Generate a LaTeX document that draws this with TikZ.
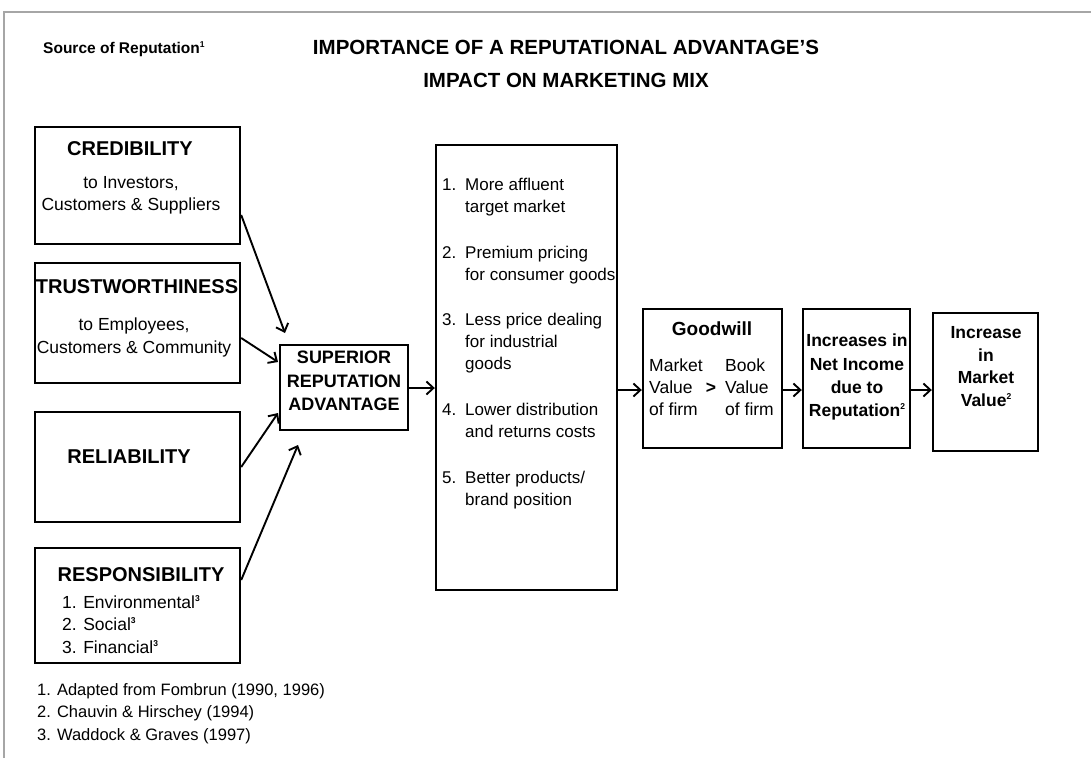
\documentclass[tikz,border=0pt]{standalone}
\usepackage{fontspec}
\setmainfont{Liberation Sans}
\usetikzlibrary{arrows.meta}
\newcommand{\supnum}[1]{\raisebox{0.42em}{\fontsize{8.5}{8.5}\selectfont\bfseries #1}}
\begin{document}
\begin{tikzpicture}[x=1pt,y=-1pt,
  box/.style={draw=black, line width=2.4pt, inner sep=0pt},
  lbl/.style={inner sep=0pt, text height=0.72em, text depth=0pt},
  big/.style={lbl, font=\fontsize{20}{24}\selectfont\bfseries},
  med/.style={lbl, font=\fontsize{17.5}{21}\selectfont},
  mixt/.style={lbl, font=\fontsize{17}{21}\selectfont},
  medb/.style={lbl, font=\fontsize{17.5}{21}\selectfont\bfseries},
  sml/.style={lbl, font=\fontsize{16.5}{20}\selectfont},
  arr/.style={line width=1.9pt, -{Straight Barb[length=7pt,width=13pt,line width=1.9pt]}}
]
\useasboundingbox (0,0) rectangle (1091,758);
% page frame
\draw[gray!70, line width=1.5pt] (4,758) -- (4,12) -- (1091,12);

% headings
\node[lbl, anchor=west, font=\fontsize{15.5}{19}\selectfont\bfseries] (src) at (43,50) {Source of Reputation\supnum{1}};
\node[lbl, font=\fontsize{20.5}{24}\selectfont\bfseries] (ti1) at (566,51) {IMPORTANCE OF A REPUTATIONAL ADVANTAGE'S};
\node[lbl, font=\fontsize{20.5}{24}\selectfont\bfseries] (ti2) at (566,84) {IMPACT ON MARKETING MIX};

% source boxes
\node[box, minimum width=205pt, minimum height=117pt] (cred) at (137.5,185.5) {};
\node[box, minimum width=205pt, minimum height=120pt] (trust) at (137.5,323) {};
\node[box, minimum width=205pt, minimum height=110pt] (rel) at (137.5,467) {};
\node[box, minimum width=205pt, minimum height=115pt] (resp) at (137.5,605.5) {};

\node[big] (cred1) at (130,152) {CREDIBILITY};
\node[med] (cred2) at (131,185) {to Investors,};
\node[med] (cred3) at (131,207) {Customers \& Suppliers};

\node[big] (trust1) at (137,290) {TRUSTWORTHINESS};
\node[med] (trust2) at (134,327) {to Employees,};
\node[med] (trust3) at (134,350) {Customers \& Community};

\node[big] (rel1) at (129,460) {RELIABILITY};

\node[big] (resp1) at (141,578) {RESPONSIBILITY};
\node[med, anchor=west] (resp2) at (62,605) {1. Environmental\supnum{3}};
\node[med, anchor=west] (resp3) at (62,627) {2. Social\supnum{3}};
\node[med, anchor=west] (resp4) at (62,650) {3. Financial\supnum{3}};

% footnotes
\node[sml, anchor=west] (fn1) at (37,692) {1. Adapted from Fombrun (1990, 1996)};
\node[sml, anchor=west] (fn2) at (37,714) {2. Chauvin \& Hirschey (1994)};
\node[sml, anchor=west] (fn3) at (37,737) {3. Waddock \& Graves (1997)};

% superior reputation advantage
\node[box, minimum width=128pt, minimum height=85pt] (sup) at (344,387.5) {};
\node[lbl, font=\fontsize{18}{22}\selectfont\bfseries] (sup1) at (344,360) {SUPERIOR};
\node[lbl, font=\fontsize{18}{22}\selectfont\bfseries] (sup2) at (344,384) {REPUTATION};
\node[lbl, font=\fontsize{18}{22}\selectfont\bfseries] (sup3) at (344,407) {ADVANTAGE};

% marketing mix box
\node[box, minimum width=181pt, minimum height=445pt] (mix) at (526.5,367.5) {};
\node[mixt, anchor=west] (n1) at (442,187) {1.};
\node[mixt, anchor=west] (m1a) at (465,187) {More affluent};
\node[mixt, anchor=west] (m1b) at (465,209) {target market};
\node[mixt, anchor=west] (n2) at (442,255) {2.};
\node[mixt, anchor=west] (m2a) at (465,255) {Premium pricing};
\node[mixt, anchor=west] (m2b) at (465,277) {for consumer goods};
\node[mixt, anchor=west] (n3) at (442,322) {3.};
\node[mixt, anchor=west] (m3a) at (465,322) {Less price dealing};
\node[mixt, anchor=west] (m3b) at (465,344) {for industrial};
\node[mixt, anchor=west] (m3c) at (465,366) {goods};
\node[mixt, anchor=west] (n4) at (442,412) {4.};
\node[mixt, anchor=west] (m4a) at (465,412) {Lower distribution};
\node[mixt, anchor=west] (m4b) at (465,434) {and returns costs};
\node[mixt, anchor=west] (n5) at (442,480) {5.};
\node[mixt, anchor=west] (m5a) at (465,480) {Better products/};
\node[mixt, anchor=west] (m5b) at (465,502) {brand position};

% goodwill
\node[box, minimum width=139pt, minimum height=139pt] (good) at (712.5,378.5) {};
\node[lbl, font=\fontsize{19}{23}\selectfont\bfseries] (g0) at (712,332) {Goodwill};
\node[med, anchor=west] (g1) at (649,368) {Market};
\node[med, anchor=west] (g2) at (649,390) {Value};
\node[med, anchor=west] (g3) at (649,412) {of firm};
\node[medb] (gt) at (711,390) {>};
\node[med, anchor=west] (g4) at (725,368) {Book};
\node[med, anchor=west] (g5) at (725,390) {Value};
\node[med, anchor=west] (g6) at (725,412) {of firm};

% net income
\node[box, minimum width=107pt, minimum height=139pt] (net) at (856.5,378.5) {};
\node[medb] (ni1) at (857,343) {Increases in};
\node[medb] (ni2) at (857,367) {Net Income};
\node[medb] (ni3) at (857,390) {due to};
\node[medb] (ni4) at (857,413) {Reputation\supnum{2}};

% market value
\node[box, minimum width=105pt, minimum height=138pt] (mv) at (985.5,382) {};
\node[medb] (mv1) at (986,335) {Increase};
\node[medb] (mv2) at (986,358) {in};
\node[medb] (mv3) at (986,380) {Market};
\node[medb] (mv4) at (986,403) {Value\supnum{2}};

% arrows from sources
\coordinate (e1) at (285,333);
\coordinate (e2) at (278,362);
\coordinate (e3) at (278,413);
\coordinate (e4) at (298,445);
\draw[arr] (cred.east |- 0,215) -- (e1);
\draw[arr] (trust.east |- 0,338) -- (e2);
\draw[arr] (rel.east |- 0,467) -- (e3);
\draw[arr] (resp.east |- 0,580) -- (e4);

% flow arrows
\draw[arr] (sup.east |- 0,388) -- (mix.west |- 0,388);
\draw[arr] (mix.east |- 0,390) -- (good.west |- 0,390);
\draw[arr] (good.east |- 0,390) -- (net.west |- 0,390);
\draw[arr] (net.east |- 0,390) -- (mv.west |- 0,390);
\end{tikzpicture}
\end{document}
